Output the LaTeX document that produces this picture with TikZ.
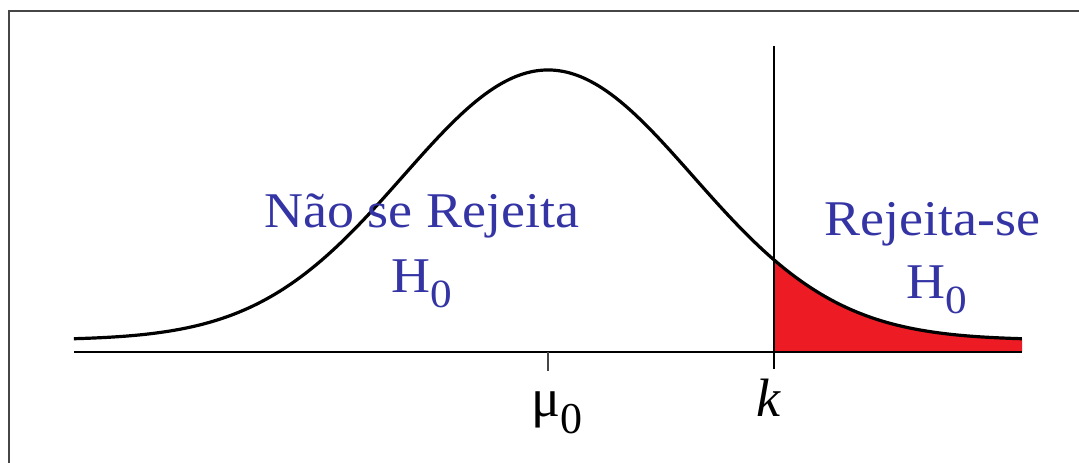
\documentclass[tikz,border=0pt]{standalone}
\usepackage{fontspec}
\setmainfont{Liberation Serif}
\newfontfamily\txtfont[FakeStretch=1.08]{Liberation Serif}
\definecolor{txtblue}{RGB}{52,52,165}
\definecolor{rejred}{RGB}{237,28,36}
\definecolor{framegray}{RGB}{70,70,70}
\newcommand{\subzero}[2]{\raisebox{#1}{\fontsize{#2}{#2}\selectfont 0}}
\tikzset{
  frameline/.style={draw=framegray,line width=2.2pt},
  axisline/.style={draw=black,line width=1.5pt},
  bellcurve/.style={draw=black,line width=2.4pt},
  kline/.style={draw=black,line width=1.4pt},
  tickline/.style={draw=framegray,line width=1.5pt},
  txt/.style={text=txtblue,font=\txtfont\fontsize{37.5pt}{40pt}\selectfont,inner sep=0pt},
  lab/.style={text=black,font=\fontsize{40.5pt}{44pt}\selectfont,inner sep=0pt}
}
\begin{document}
\begin{tikzpicture}[x=0.75pt,y=-0.75pt]
\useasboundingbox (0,0) rectangle (1079,462);
% frame
\draw[frameline] (9,470) -- (9,11) -- (1085,11);
% coordinates
\coordinate (axL) at (74,352);
\coordinate (axR) at (1022,352);
\coordinate (muBase) at (548,352);
\coordinate (muTick) at (548,371);
\coordinate (kBase) at (774,352);
\coordinate (kTop) at (774,46);
\coordinate (kTick) at (774,369);
% rejection region
\fill[rejred] plot[domain=1.5586:3.27,samples=60,smooth] ({548+145*\x},{340-270*exp(-0.5*(\x)^2)}) -- (axR) -- (kBase) -- cycle;
% axis
\draw[axisline] (axL) -- (axR);
% vertical line at k
\draw[kline] (kTop) -- (kTick);
% tick at mu
\draw[tickline] (muBase) -- (muTick);
% bell curve
\draw[bellcurve,line join=round] plot[domain=-3.27:3.27,samples=160,smooth] ({548+145*\x},{340-270*exp(-0.5*(\x)^2)});
% texts
\node[txt,anchor=base] (nao) at (422,227) {Não se Rejeita};
\node[txt,anchor=base] (h0l) at (422,292) {H\subzero{-11.25pt}{30pt}};
\node[txt,anchor=base] (rej) at (932,235) {Rejeita-se};
\node[txt,anchor=base] (h0r) at (937,298) {H\subzero{-11.25pt}{30pt}};
% axis labels
\node[lab,anchor=base] (mu) at (557,416) {μ\subzero{-12.75pt}{33pt}};
\node[lab,anchor=base] (k) at (768,416) {\itshape k};
\end{tikzpicture}
\end{document}
